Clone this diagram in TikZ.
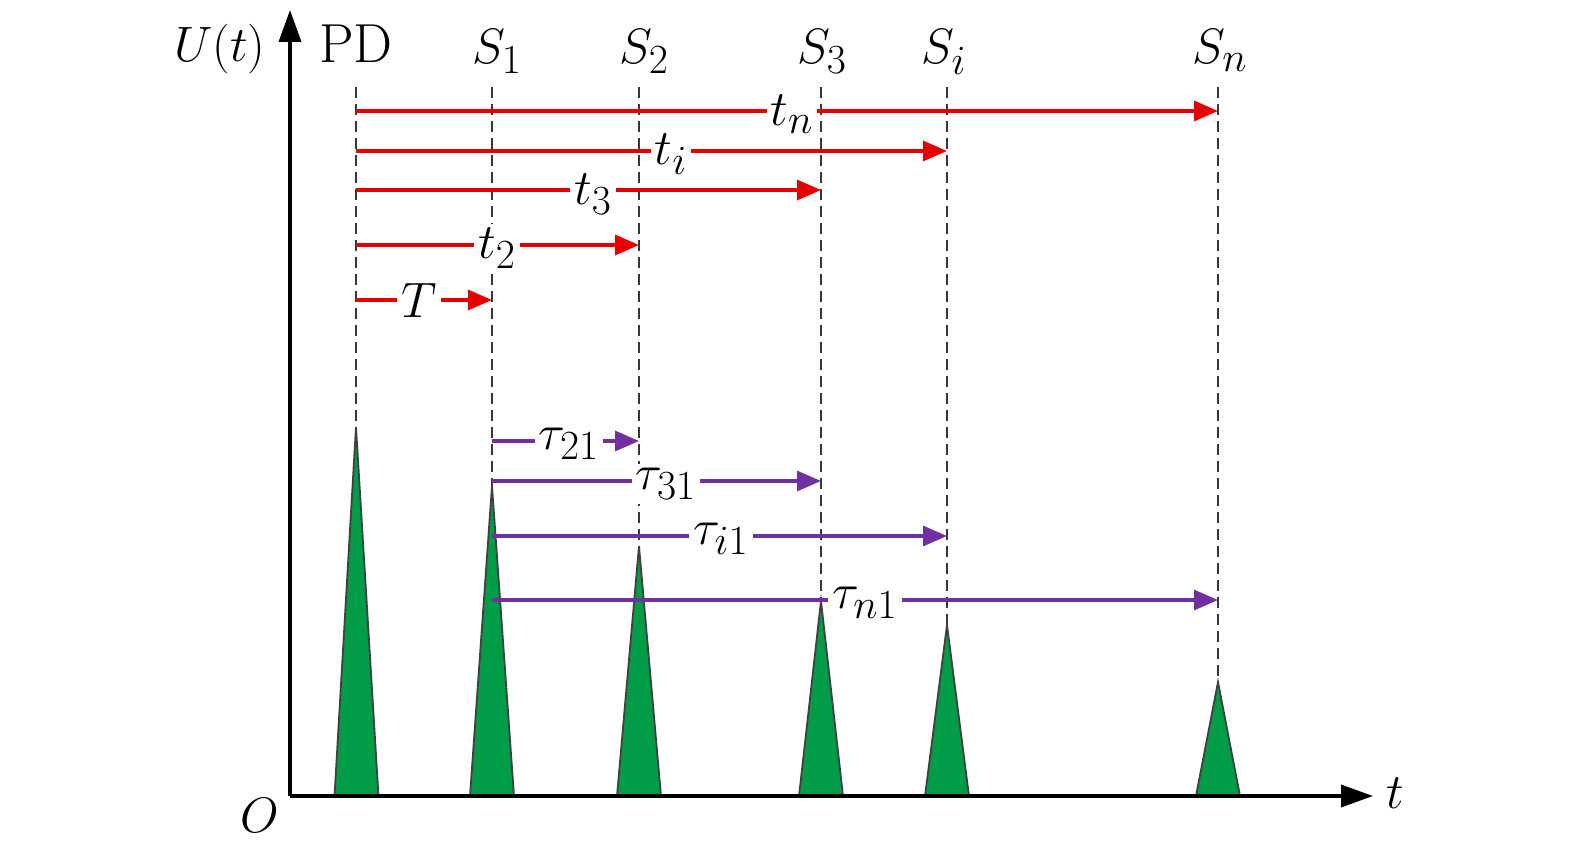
\documentclass[tikz,border=0pt]{standalone}
\usetikzlibrary{arrows.meta}
\definecolor{myred}{RGB}{230,0,0}
\definecolor{mypurple}{RGB}{112,48,160}
\definecolor{mygreen}{RGB}{0,156,72}
\definecolor{guidegray}{RGB}{55,55,55}
\begin{document}
\begin{tikzpicture}[x=0.5pt,y=-0.5pt,
  font=\fontsize{27.5}{32}\selectfont,
  axis/.style={line width=1.8pt,-{Triangle[length=16pt,width=11pt]}},
  guide/.style={draw=guidegray,line width=1.1pt,dash pattern=on 5.5pt off 3pt},
  redarr/.style={draw=myred,line width=1.7pt,-{Triangle[length=12pt,width=10pt]}},
  purarr/.style={draw=mypurple,line width=1.6pt,-{Triangle[length=12pt,width=10pt]}},
  lbl/.style={fill=white,inner sep=2pt},
  txt/.style={inner sep=0pt,anchor=base},
  peak/.style={fill=mygreen,draw=black!75,line width=0.9pt,line join=miter}]
\useasboundingbox (0,0) rectangle (1575,856);
% axes
\coordinate (origin) at (290,796);
\coordinate (ytip) at (290,10);
\coordinate (xtip) at (1373,796);
\draw[axis] (origin) -- (ytip);
% guide tops and peak tops
\coordinate (gPD) at (356,87);  \coordinate (pPD) at (356,427);
\coordinate (g1) at (492,87);   \coordinate (p1) at (492,486);
\coordinate (g2) at (639,87);   \coordinate (p2) at (639,546);
\coordinate (g3) at (821,87);   \coordinate (p3) at (821,601);
\coordinate (gi) at (947,87);   \coordinate (pi) at (947,625);
\coordinate (gn) at (1218,87);  \coordinate (pn) at (1218,682);
\draw[guide] (gPD) -- (pPD);
\draw[guide] (g1) -- (p1);
\draw[guide] (g2) -- (p2);
\draw[guide] (g3) -- (p3);
\draw[guide] (gi) -- (pi);
\draw[guide] (gn) -- (pn);
% peaks
\draw[peak] (pPD) -- (378.5,796) -- (334.5,796) -- cycle;
\draw[peak] (p1) -- (514,796) -- (470,796) -- cycle;
\draw[peak] (p2) -- (661,796) -- (617,796) -- cycle;
\draw[peak] (p3) -- (843,796) -- (799,796) -- cycle;
\draw[peak] (pi) -- (969,796) -- (925,796) -- cycle;
\draw[peak] (pn) -- (1240,796) -- (1196,796) -- cycle;
\draw[axis] (origin) -- (xtip);
% red arrows
\draw[redarr] (356,111) -- (1218,111);
\draw[redarr] (356,151) -- (947,151);
\draw[redarr] (356,190) -- (821,190);
\draw[redarr] (356,245) -- (639,245);
\draw[redarr] (356,300) -- (492,300);
\node[lbl] (ltn) at (792,114) {$t_n$};
\node[lbl] (lti) at (671,154) {$t_i$};
\node[lbl] (lt3) at (593,194) {$t_3$};
\node[lbl] (lt2) at (497,248) {$t_2$};
\node[lbl] (lT) at (419,300) {$T$};
% purple arrows
\draw[purarr] (492,441) -- (639,441);
\draw[purarr] (492,481) -- (821,481);
\draw[purarr] (492,536) -- (947,536);
\draw[purarr] (492,600) -- (1218,600);
\node[lbl] (l21) at (569,444) {$\tau_{21}$};
\node[lbl] (l31) at (666,484) {$\tau_{31}$};
\node[lbl] (li1) at (721,539) {$\tau_{i1}$};
\node[lbl] (ln1) at (865,603) {$\tau_{n1}$};
% top labels
\node[txt] (lU) at (220,62) {$U(t)$};
\node[txt] (lPD) at (356,63) {PD};
\node[txt] (lS1) at (497,64) {$S_1$};
\node[txt] (lS2) at (644,64) {$S_2$};
\node[txt] (lS3) at (822,64) {$S_3$};
\node[txt] (lSi) at (944,64) {$S_i$};
\node[txt] (lSn) at (1220,64) {$S_n$};
\node[txt] (lO) at (260,832) {$O$};
\node[txt] (lt) at (1395,808) {$t$};
\end{tikzpicture}
\end{document}
